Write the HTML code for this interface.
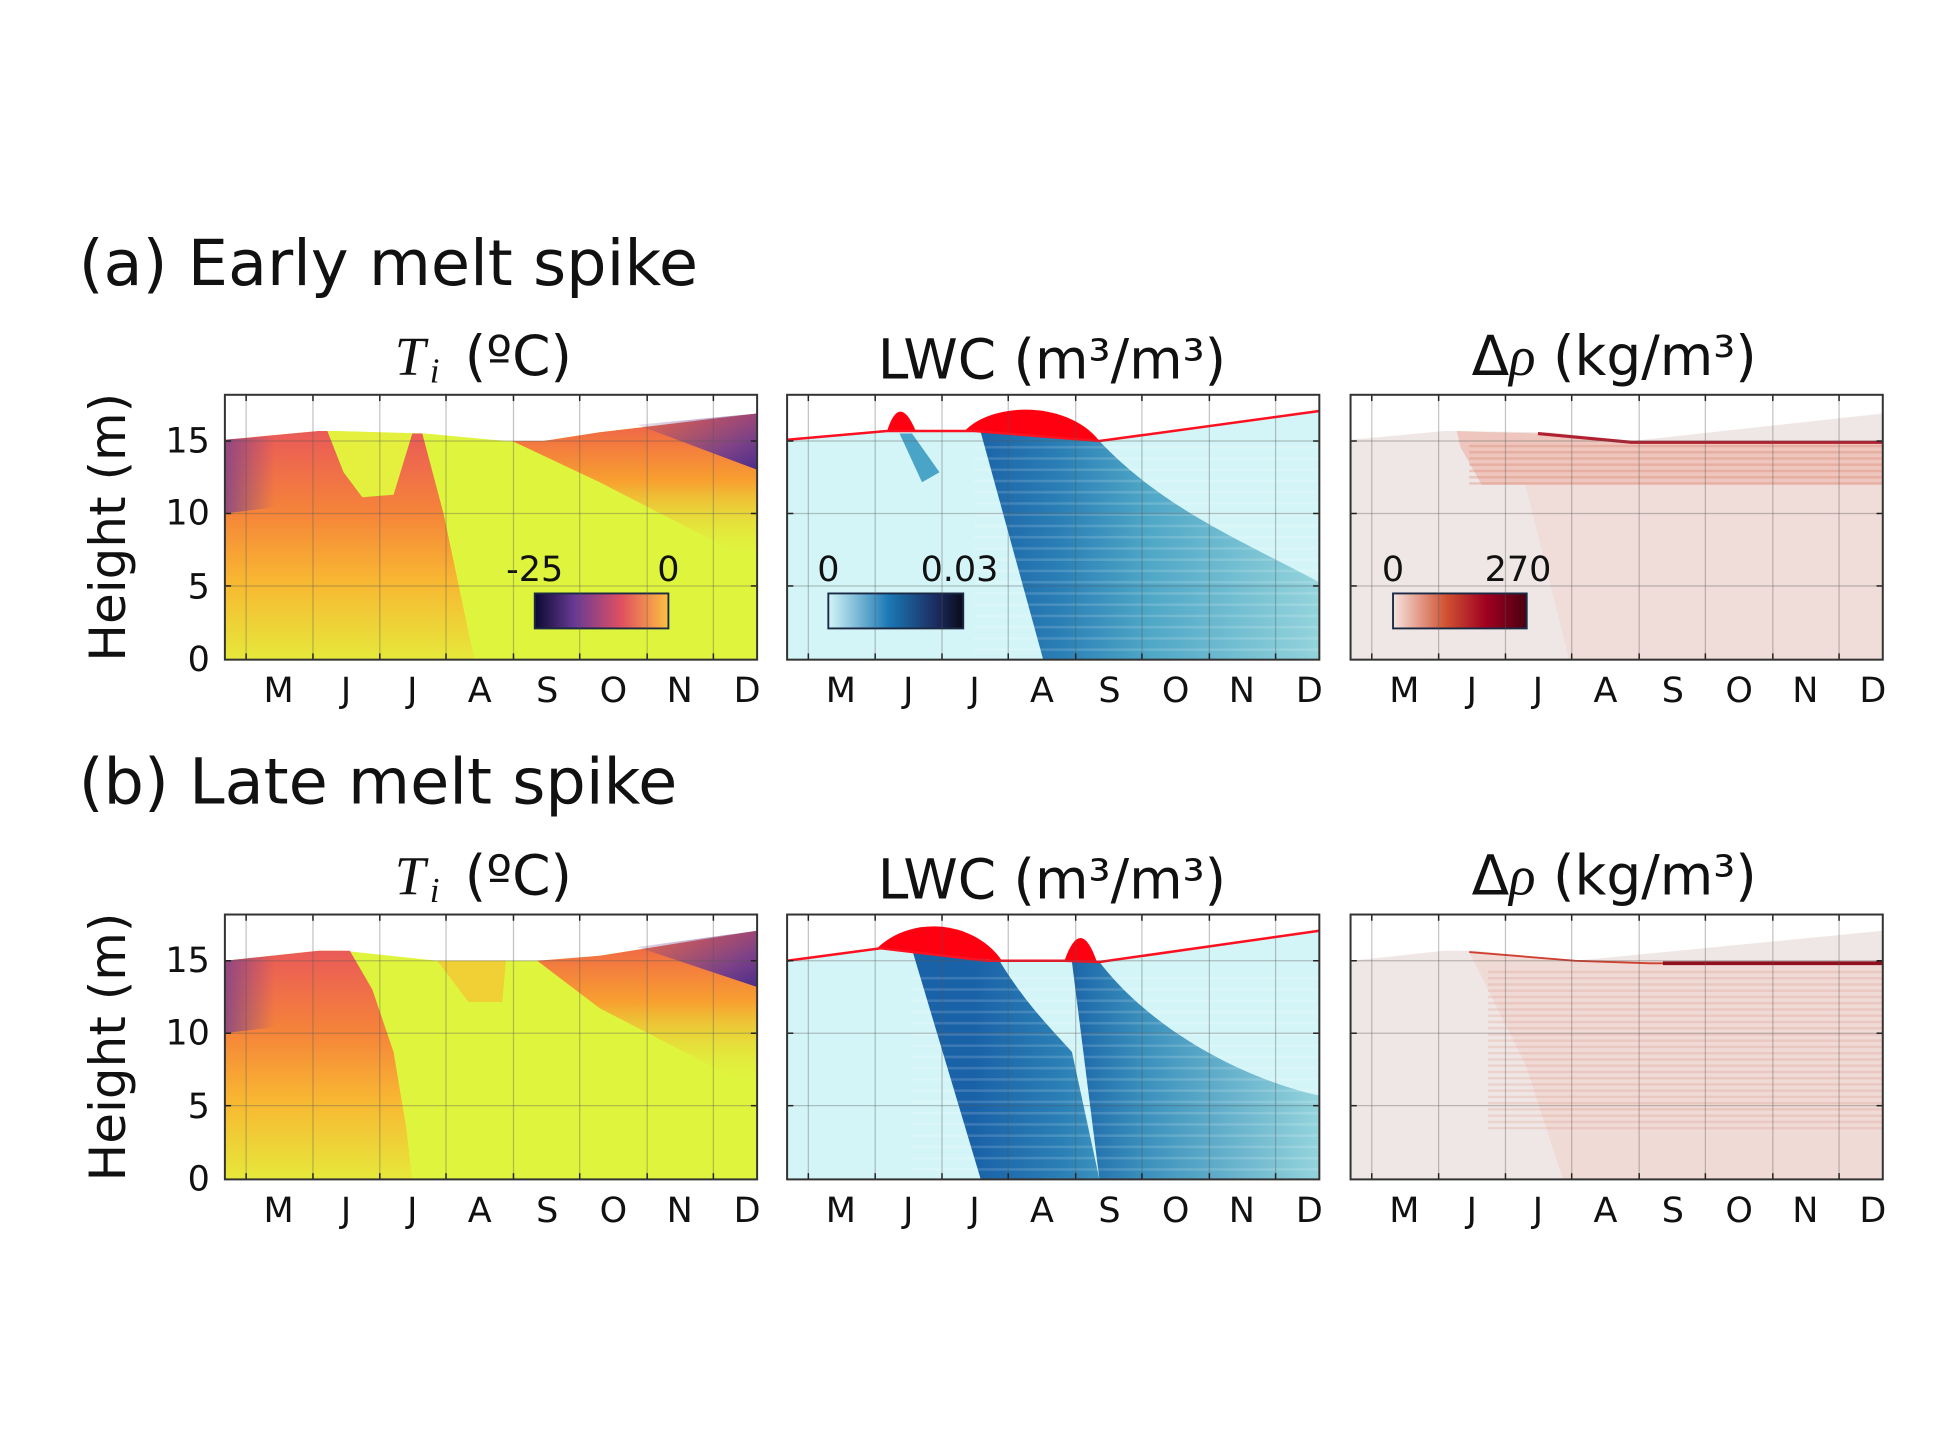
<!DOCTYPE html>
<html><head><meta charset="utf-8"><style>
html,body{margin:0;padding:0;background:#fff;}
svg{display:block;}
text{font-family:"DejaVu Sans","Liberation Sans",sans-serif;fill:#111;}
</style></head><body>
<svg width="1949" height="1453" viewBox="0 0 1560 1163" preserveAspectRatio="none" xmlns="http://www.w3.org/2000/svg">
<defs>
<linearGradient id="warm" x1="0" y1="0" x2="0" y2="1">
<stop offset="0" stop-color="#ea5a58"/><stop offset="0.35" stop-color="#f5833a"/><stop offset="0.65" stop-color="#f8b632"/><stop offset="1" stop-color="#e6e83a"/></linearGradient>
<linearGradient id="warmR" x1="0" y1="0" x2="0" y2="1">
<stop offset="0" stop-color="#ee5a4c"/><stop offset="0.45" stop-color="#f8a030"/><stop offset="1" stop-color="#dff53d" stop-opacity="0"/></linearGradient>
<linearGradient id="purpR" x1="0" y1="0" x2="1" y2="1">
<stop offset="0" stop-color="#6e3a90" stop-opacity="0"/><stop offset="0.7" stop-color="#6e3a90" stop-opacity="0.9"/><stop offset="1" stop-color="#4a2c8a"/></linearGradient>
<linearGradient id="purpL" x1="0" y1="0" x2="1" y2="0">
<stop offset="0" stop-color="#7a3f8e" stop-opacity="0.8"/><stop offset="1" stop-color="#7a3f8e" stop-opacity="0"/></linearGradient>
<linearGradient id="blue" x1="150" y1="0" x2="426" y2="0" gradientUnits="userSpaceOnUse">
<stop offset="0" stop-color="#1a62a8"/><stop offset="0.25" stop-color="#2a7fb5"/><stop offset="0.5" stop-color="#4ea6c6"/><stop offset="1" stop-color="#94d4dc"/></linearGradient>
<linearGradient id="blue2" x1="225" y1="0" x2="426" y2="0" gradientUnits="userSpaceOnUse">
<stop offset="0" stop-color="#1a64a8"/><stop offset="0.3" stop-color="#3a90bc"/><stop offset="1" stop-color="#94d4dc"/></linearGradient>
<linearGradient id="cbT" x1="0" y1="0" x2="1" y2="0">
<stop offset="0" stop-color="#0a0a30"/><stop offset="0.3" stop-color="#6a3a95"/><stop offset="0.65" stop-color="#e05060"/><stop offset="1" stop-color="#fcc040"/></linearGradient>
<linearGradient id="cbL" x1="0" y1="0" x2="1" y2="0">
<stop offset="0" stop-color="#d4f5f7"/><stop offset="0.45" stop-color="#1a78b4"/><stop offset="0.8" stop-color="#1c2c60"/><stop offset="1" stop-color="#0a0a18"/></linearGradient>
<linearGradient id="cbR" x1="0" y1="0" x2="1" y2="0">
<stop offset="0" stop-color="#f5e4e0"/><stop offset="0.4" stop-color="#d05030"/><stop offset="0.7" stop-color="#a00020"/><stop offset="1" stop-color="#480012"/></linearGradient>
<pattern id="stripesB" width="10" height="9" patternUnits="userSpaceOnUse"><rect width="10" height="2" y="5" fill="#ffffff" opacity="0.15"/></pattern>
<pattern id="stripesR" width="10" height="5" patternUnits="userSpaceOnUse"><rect width="10" height="2" fill="#d88070" opacity="0.35"/></pattern>
</defs>

<text x="63" y="228" font-size="51">(a) Early melt spike</text>
<text x="63" y="643" font-size="51">(b) Late melt spike</text>

<!-- subtitles -->
<g font-size="44">
<text x="316" y="300" style="font-family:'Liberation Serif',serif;font-style:italic">T</text><text x="344" y="306" font-size="28" style="font-family:'Liberation Serif',serif;font-style:italic">i</text><text x="372" y="300">(ºC)</text>
<text x="842" y="303" text-anchor="middle">LWC (m³/m³)</text>
<text x="1292" y="300" text-anchor="middle">Δ<tspan style="font-family:'Liberation Serif',serif;font-style:italic">ρ</tspan> (kg/m³)</text>
<text x="316" y="716" style="font-family:'Liberation Serif',serif;font-style:italic">T</text><text x="344" y="722" font-size="28" style="font-family:'Liberation Serif',serif;font-style:italic">i</text><text x="372" y="716">(ºC)</text>
<text x="842" y="719" text-anchor="middle">LWC (m³/m³)</text>
<text x="1292" y="716" text-anchor="middle">Δ<tspan style="font-family:'Liberation Serif',serif;font-style:italic">ρ</tspan> (kg/m³)</text>
</g>

<!-- y labels -->
<text transform="translate(100,422) rotate(-90)" font-size="40" text-anchor="middle">Height (m)</text>
<text transform="translate(100,838) rotate(-90)" font-size="40" text-anchor="middle">Height (m)</text>
<g font-size="28" text-anchor="end">
<text x="168" y="362">15</text><text x="168" y="420">10</text><text x="168" y="479">5</text><text x="168" y="537">0</text>
<text x="168" y="778">15</text><text x="168" y="836">10</text><text x="168" y="895">5</text><text x="168" y="953">0</text>
</g>

<!-- Row a left -->
<g transform="translate(180,316)">
<polygon points="0,36 75,29 90,29 160,31 225,37 255,37 300,30 426,15 426,212 0,212" fill="#dff53d"/>
<polygon points="230,37 255,37 300,30 426,15 426,135 300,70" fill="url(#warmR)"/>
<polygon points="330,24 426,15 426,60" fill="url(#purpR)"/>
<polygon points="0,36 75,29 82,29 95,62 110,82 135,80 150,31 158,31 175,95 195,190 200,212 0,212" fill="url(#warm)"/>
<polygon points="0,36 40,33 40,90 0,95" fill="url(#purpL)"/>
<polygon points="84,29 148,31 135,78 112,80 96,60" fill="#e6ef3e" opacity="0.85"/>
</g>
<!-- Row a middle -->
<g transform="translate(630,316)">
<polygon points="0,36 80,29 150,29 250,37 426,13 426,212 0,212" fill="#d4f5f7"/>
<path d="M155,30 L250,37 C300,90 360,115 426,150 L426,212 L205,212 Z" fill="url(#blue)"/>
<rect x="150" y="40" width="276" height="172" fill="url(#stripesB)"/>
<polygon points="90,31 100,31 122,62 108,70" fill="#4aa4c8"/>
<path d="M80,29 Q90,-2 103,29 Z" fill="#ff0010"/>
<path d="M142,29 C165,5 225,5 250,37 Z" fill="#ff0010"/>
<polyline points="0,36 80,29 150,29 250,37 426,13" fill="none" stroke="#ff1020" stroke-width="2"/>
</g>
<!-- Row a right -->
<g transform="translate(1081,316)">
<polygon points="0,36 75,29 160,30 225,37 426,15 426,212 0,212" fill="#efe7e5"/>
<polygon points="140,72 426,72 426,212 175,212" fill="#f0dcd8"/>
<polygon points="85,29 150,31 225,37 426,37 426,72 105,72 88,42" fill="#eec6bd"/>
<rect x="95" y="40" width="331" height="32" fill="url(#stripesR)"/>
<polyline points="150,31 225,38 426,38" fill="none" stroke="#b02030" stroke-width="2.5"/>
</g>
<!-- Row b left -->
<g transform="translate(180,732)">
<polygon points="0,37 75,29 95,29 170,37 260,37 300,33 426,13 426,212 0,212" fill="#dff53d"/>
<polygon points="250,37 300,33 426,13 426,140 300,75" fill="url(#warmR)"/>
<polygon points="330,26 426,13 426,58" fill="url(#purpR)"/>
<polygon points="170,37 225,37 222,70 195,70" fill="#f6c030" opacity="0.7"/>
<polygon points="0,37 75,29 100,29 118,60 135,110 145,170 150,212 0,212" fill="url(#warm)"/>
<polygon points="0,37 40,33 40,90 0,95" fill="url(#purpL)"/>
</g>
<!-- Row b middle -->
<g transform="translate(630,732)">
<polygon points="0,37 75,27 160,37 222,37 250,38 426,13 426,212 0,212" fill="#d4f5f7"/>
<path d="M100,28 L170,37 C190,70 210,90 228,110 L250,212 L155,212 Z" fill="url(#blue)"/>
<path d="M228,38 L250,38 C290,90 360,130 426,145 L426,212 L250,212 Z" fill="url(#blue2)"/>
<rect x="100" y="45" width="326" height="167" fill="url(#stripesB)"/>
<path d="M72,27 C100,0 150,5 172,37 Z" fill="#ff0010"/>
<path d="M222,37 Q235,0 248,38 Z" fill="#ff0010"/>
<polyline points="0,37 75,27 160,37 222,37 250,38 426,13" fill="none" stroke="#ff1020" stroke-width="2"/>
</g>
<!-- Row b right -->
<g transform="translate(1081,732)">
<polygon points="0,37 75,29 100,29 180,37 426,13 426,212 0,212" fill="#efe7e5"/>
<polygon points="95,30 180,37 426,37 426,212 170,212 140,120" fill="#f0dad6"/>
<rect x="110" y="42" width="316" height="130" fill="url(#stripesR)" opacity="0.6"/>
<polyline points="95,30 180,37 240,39 426,39" fill="none" stroke="#d04030" stroke-width="1.5"/>
<line x1="250" y1="39" x2="426" y2="39" stroke="#901020" stroke-width="3"/>
</g>

<!-- colorbars -->
<g font-size="28">
<text x="428" y="465" text-anchor="middle">-25</text><text x="535" y="465" text-anchor="middle">0</text>
<rect x="428" y="475" width="107" height="28" fill="url(#cbT)" stroke="#1a2a44" stroke-width="1.5"/>
<text x="663" y="465" text-anchor="middle">0</text><text x="768" y="465" text-anchor="middle">0.03</text>
<rect x="663" y="475" width="108" height="28" fill="url(#cbL)" stroke="#1a2a44" stroke-width="1.5"/>
<text x="1115" y="465" text-anchor="middle">0</text><text x="1215" y="465" text-anchor="middle">270</text>
<rect x="1115" y="475" width="107" height="28" fill="url(#cbR)" stroke="#1a2a44" stroke-width="1.5"/>
</g>

<g id="grids"></g>
</svg>
<script>
(function(){
var ns="http://www.w3.org/2000/svg",g=document.getElementById("grids");
var xs=[180,630,1081],ys=[316,732],months="MJJASOND";
var lines=[17,70.5,124,177,231,284,338,391],labs=[43,97,150,204,258,311,364,418];
function el(t,a){var e=document.createElementNS(ns,t);for(var k in a)e.setAttribute(k,a[k]);g.appendChild(e);return e;}
ys.forEach(function(y0){xs.forEach(function(x0){
 lines.forEach(function(l){el("line",{x1:x0+l,y1:y0,x2:x0+l,y2:y0+212,stroke:"#555","stroke-opacity":"0.35","stroke-width":"1"});
  el("line",{x1:x0+l,y1:y0,x2:x0+l,y2:y0+5,stroke:"#222","stroke-width":"1.2"});
  el("line",{x1:x0+l,y1:y0+207,x2:x0+l,y2:y0+212,stroke:"#222","stroke-width":"1.2"});});
 [37,95,153].forEach(function(h){el("line",{x1:x0,y1:y0+h,x2:x0+426,y2:y0+h,stroke:"#555","stroke-opacity":"0.35","stroke-width":"1"});
  el("line",{x1:x0,y1:y0+h,x2:x0+5,y2:y0+h,stroke:"#222","stroke-width":"1.2"});
  el("line",{x1:x0+421,y1:y0+h,x2:x0+426,y2:y0+h,stroke:"#222","stroke-width":"1.2"});});
 el("rect",{x:x0,y:y0,width:426,height:212,fill:"none",stroke:"#333","stroke-width":"1.6"});
 labs.forEach(function(l,i){var t=el("text",{x:x0+l,y:y0+246,"font-size":"28","text-anchor":"middle"});t.textContent=months[i];});
});});
})();
</script>
</body></html>
